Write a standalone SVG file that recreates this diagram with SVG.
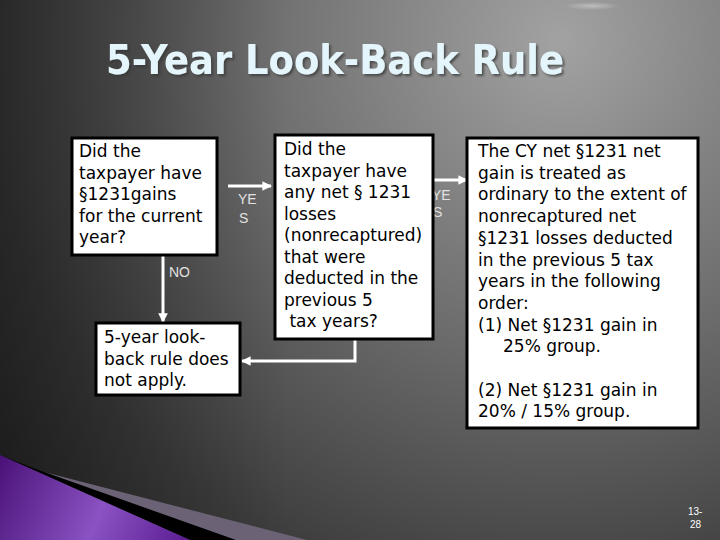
<svg xmlns="http://www.w3.org/2000/svg" width="720" height="540" viewBox="0 0 720 540">
<defs>
<radialGradient id="bg" cx="560" cy="40" r="720" gradientUnits="userSpaceOnUse">
<stop offset="0" stop-color="#a2a2a2"/>
<stop offset="0.45" stop-color="#6a6a6a"/>
<stop offset="0.8" stop-color="#3c3c3c"/>
<stop offset="1" stop-color="#2a2a2a"/>
</radialGradient>
<linearGradient id="leftShade" x1="0" y1="0" x2="1" y2="0">
<stop offset="0" stop-color="#000" stop-opacity="0.35"/>
<stop offset="0.4" stop-color="#000" stop-opacity="0"/>
</linearGradient>
<linearGradient id="purple" x1="0" y1="455" x2="190" y2="540" gradientUnits="userSpaceOnUse">
<stop offset="0" stop-color="#4a1278"/>
<stop offset="0.55" stop-color="#8a52c2"/>
<stop offset="1" stop-color="#5a1c92"/>
</linearGradient>
<radialGradient id="glow" cx="0.5" cy="0.5" r="0.5">
<stop offset="0" stop-color="#fff" stop-opacity="0.35"/>
<stop offset="1" stop-color="#fff" stop-opacity="0"/>
</radialGradient>
<filter id="shadow" x="-5%" y="-20%" width="110%" height="140%">
<feDropShadow dx="2" dy="2" stdDeviation="0.8" flood-color="#333" flood-opacity="0.7"/>
</filter>
<marker id="ah" viewBox="0 0 10 10" refX="9" refY="5" markerWidth="3.2" markerHeight="3.2" orient="auto" markerUnits="strokeWidth">
<path d="M0,0 L10,5 L0,10 z" fill="#fff"/>
</marker>
</defs>
<style>
.box{fill:#fff;stroke:#000;stroke-width:3}
.t{font-family:"DejaVu Sans",Verdana,sans-serif;font-size:17px;fill:#000}
.lbl{font-family:"Liberation Sans",Arial,sans-serif;font-size:14px;fill:#e0e0e0}
.conn{stroke:#fff;stroke-width:3;fill:none}
</style>
<rect width="720" height="540" fill="url(#bg)"/>
<rect width="720" height="540" fill="url(#leftShade)"/>
<ellipse cx="592" cy="6" rx="28" ry="4" fill="url(#glow)"/>
<g id="swoosh">
<polygon points="40,471 307,540 232,540" fill="#6b6275"/>
<polygon points="33,468 236,540 190,540 0,455" fill="#000"/>
<polygon points="0,455 190,540 0,540" fill="url(#purple)"/>
</g>
<g id="title">
<text x="106" y="74" font-family="'DejaVu Sans Condensed','DejaVu Sans',sans-serif" font-weight="bold" font-size="41" fill="#e4f6fb" textLength="458" lengthAdjust="spacingAndGlyphs" filter="url(#shadow)">5-Year Look-Back Rule</text>
</g>
<g id="connectors">
<line class="conn" x1="228" y1="186" x2="271" y2="186" marker-end="url(#ah)"/>
<line class="conn" x1="163" y1="255" x2="163" y2="322" marker-end="url(#ah)"/>
<line class="conn" x1="433" y1="180" x2="467" y2="180" marker-end="url(#ah)"/>
<polyline class="conn" points="355,340 355,361 242,361" marker-end="url(#ah)"/>
<text class="lbl" x="238" y="204">YE</text>
<text class="lbl" x="239" y="223">S</text>
<text class="lbl" x="169" y="277">NO</text>
<text class="lbl" x="432" y="200">YE</text>
<text class="lbl" x="433" y="217">S</text>
</g>
<g id="q1">
<rect class="box" x="72" y="138" width="145" height="117"/>
<text class="t" x="79" y="157">Did the</text>
<text class="t" x="79" y="178.5">taxpayer have</text>
<text class="t" x="79" y="200">§1231gains</text>
<text class="t" x="79" y="221.5">for the current</text>
<text class="t" x="79" y="243">year?</text>
</g>
<g id="no-apply">
<rect class="box" x="96" y="323" width="144" height="72"/>
<text class="t" x="104" y="343">5-year look-</text>
<text class="t" x="104" y="364.5">back rule does</text>
<text class="t" x="104" y="386">not apply.</text>
</g>
<g id="q2">
<rect class="box" x="275" y="135" width="158" height="204"/>
<text class="t" x="284" y="155">Did the</text>
<text class="t" x="284" y="176.5">taxpayer have</text>
<text class="t" x="284" y="198">any net § 1231</text>
<text class="t" x="284" y="219.5">losses</text>
<text class="t" x="284" y="241">(nonrecaptured)</text>
<text class="t" x="284" y="262.5">that were</text>
<text class="t" x="284" y="284">deducted in the</text>
<text class="t" x="284" y="305.5">previous 5</text>
<text class="t" x="284" y="327" xml:space="preserve"> tax years?</text>
</g>
<g id="result">
<rect class="box" x="467" y="138" width="231" height="290"/>
<text class="t" x="478" y="157">The CY net §1231 net</text>
<text class="t" x="478" y="178.7">gain is treated as</text>
<text class="t" x="478" y="200.4">ordinary to the extent of</text>
<text class="t" x="478" y="222.1">nonrecaptured net</text>
<text class="t" x="478" y="243.8">§1231 losses deducted</text>
<text class="t" x="478" y="265.5">in the previous 5 tax</text>
<text class="t" x="478" y="287.2">years in the following</text>
<text class="t" x="478" y="308.9">order:</text>
<text class="t" x="478" y="330.6">(1) Net §1231 gain in</text>
<text class="t" x="503" y="352.3">25% group.</text>
<text class="t" x="478" y="395.7">(2) Net §1231 gain in</text>
<text class="t" x="478" y="417.4">20% / 15% group.</text>
</g>
<g id="page">
<text x="688" y="515" font-family="'Liberation Sans',Arial,sans-serif" font-size="10" fill="#fff">13-</text>
<text x="690" y="528" font-family="'Liberation Sans',Arial,sans-serif" font-size="10" fill="#fff">28</text>
</g>
</svg>
